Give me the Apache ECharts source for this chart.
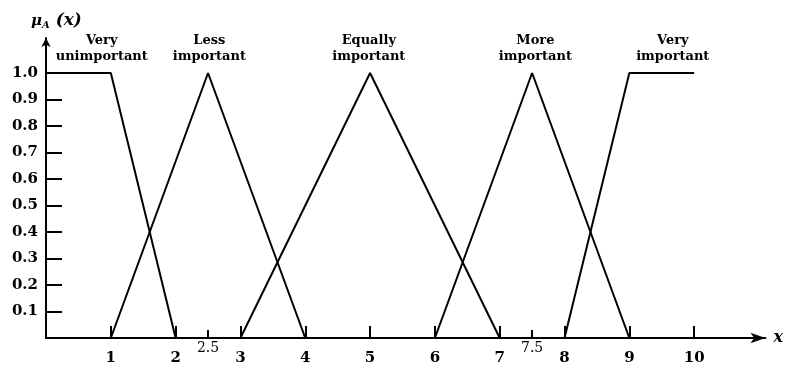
<!DOCTYPE html>
<html>
<head>
<meta charset="utf-8">
<script src="https://cdn.jsdelivr.net/npm/echarts@6/dist/echarts.min.js"></script>
<style>html,body{margin:0;padding:0;background:#fff}#c{width:786px;height:368px}</style>
</head>
<body>
<div id="c"></div>
<script>
// Membership functions (x, mu)
const veryUnimportant = [[0, 1], [1, 1], [2, 0]];
const lessImportant = [[1, 0], [2.5, 1], [4, 0]];
const equallyImportant = [[3, 0], [5, 1], [7, 0]];
const moreImportant = [[6, 0], [7.5, 1], [9, 0]];
const veryImportant = [[8, 0], [9, 1], [10, 1]];

const termNames = ['Very\nunimportant', 'Less\nimportant', 'Equally\nimportant', 'More\nimportant', 'Very\nimportant'];
const termLabelX = [0.86, 2.52, 4.98, 7.55, 9.67];

const xTickLabels = [1, 2, 3, 4, 5, 6, 7, 8, 9, 10];
const xHalfTickLabels = [2.5, 7.5];
const yTickLabels = [0.1, 0.2, 0.3, 0.4, 0.5, 0.6, 0.7, 0.8, 0.9, 1.0];

const FONT = 'DejaVu Serif';
const chart = echarts.init(document.getElementById('c'), null, {renderer: 'canvas'});

const lineStyle = {color: '#000', width: 2};
const mkLine = (name, data) => ({
  name, type: 'line', data, symbol: 'none', lineStyle, xAxisIndex: 0, yAxisIndex: 0,
  silent: true, animation: false, clip: false
});

chart.setOption({
  animation: false,
  backgroundColor: '#fff',
  title: {
    text: '{mu|μ}{sub|A}{x| (x)}',
    left: 26, top: 7,
    textStyle: {
      rich: {
        mu: {fontFamily: FONT, fontStyle: 'italic', fontWeight: 'bold', fontSize: 15, color: '#000'},
        sub: {fontFamily: FONT, fontStyle: 'italic', fontWeight: 'bold', fontSize: 10, color: '#000', padding: [8, 0, 0, 0]},
        x: {fontFamily: FONT, fontStyle: 'italic', fontWeight: 'bold', fontSize: 17, color: '#000'}
      }
    }
  },
  grid: {left: 46, right: 18, top: 38, bottom: 30, containLabel: false},
  xAxis: [{
    type: 'value', min: 0, max: 11.1,
    name: 'x', nameLocation: 'end', nameGap: 8,
    nameTextStyle: {fontFamily: FONT, fontStyle: 'italic', fontWeight: 'bold', fontSize: 16, color: '#000', verticalAlign: 'middle'},
    axisLine: {show: true, onZero: false, symbol: ['none', 'arrow'], symbolSize: [8, 15], lineStyle: {color: '#000', width: 2}},
    axisTick: {show: true, inside: true, length: 12, customValues: xTickLabels, lineStyle: {color: '#000', width: 2}},
    axisLabel: {show: true, customValues: xTickLabels, margin: 13, fontFamily: FONT, fontWeight: 'bold', fontSize: 15, color: '#000', showMinLabel: true, showMaxLabel: true},
    splitLine: {show: false}
  }, {
    type: 'value', min: 0, max: 11.1, position: 'bottom', gridIndex: 0,
    axisLine: {show: false},
    axisTick: {show: true, inside: true, length: 8, customValues: xHalfTickLabels, lineStyle: {color: '#000', width: 2}},
    axisLabel: {show: true, customValues: xHalfTickLabels, margin: 3, fontFamily: FONT, fontSize: 14, color: '#000', formatter: v => String(v)},
    splitLine: {show: false}
  }],
  yAxis: {
    type: 'value', min: 0, max: 1.132,
    axisLine: {show: true, onZero: false, symbol: ['none', 'arrow'], symbolSize: [7, 9], lineStyle: {color: '#000', width: 2}},
    axisTick: {show: true, inside: true, length: 16, customValues: yTickLabels, lineStyle: {color: '#000', width: 2}},
    axisLabel: {show: true, customValues: yTickLabels, margin: 8, fontFamily: FONT, fontWeight: 'bold', fontSize: 15, color: '#000', formatter: v => v.toFixed(1)},
    splitLine: {show: false}
  },
  series: [
    mkLine('Very unimportant', veryUnimportant),
    mkLine('Less important', lessImportant),
    mkLine('Equally important', equallyImportant),
    mkLine('More important', moreImportant),
    mkLine('Very important', veryImportant),
    {
      type: 'scatter', symbol: 'circle', symbolSize: 2, silent: true,
      xAxisIndex: 0, yAxisIndex: 0,
      itemStyle: {color: 'rgba(0,0,0,0)', opacity: 1},
      data: termLabelX.map((x, i) => ({value: [x, 1], name: termNames[i]})),
      label: {
        show: true, position: 'top', distance: 7,
        formatter: p => termNames[p.dataIndex],
        fontFamily: FONT, fontWeight: 'bold', fontSize: 13, lineHeight: 16, color: '#000', align: 'center'
      },
      labelLayout: {hideOverlap: false}
    }
  ]
});
</script>
</body>
</html>
